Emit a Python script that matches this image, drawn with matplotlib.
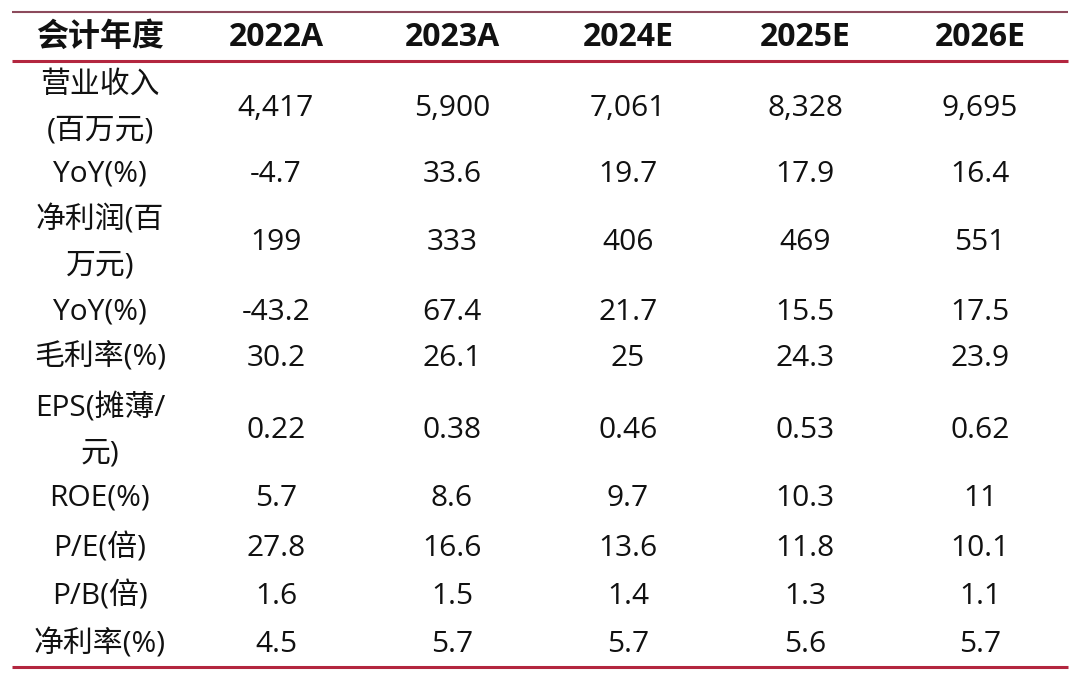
"""Financial forecast table rendered with matplotlib."""

import matplotlib.pyplot as plt

plt.rcParams["font.family"] = ["Open Sans", "Noto Sans CJK SC", "DejaVu Sans"]

HEADER = ["会计年度", "2022A", "2023A", "2024E", "2025E", "2026E"]
ROW_LABELS = [
    "营业收入\n(百万元)",
    "YoY(%)",
    "净利润(百\n万元)",
    "YoY(%)",
    "毛利率(%)",
    "EPS(摊薄/\n元)",
    "ROE(%)",
    "P/E(倍)",
    "P/B(倍)",
    "净利率(%)",
]
REVENUE = ["4,417", "5,900", "7,061", "8,328", "9,695"]
REVENUE_YOY = ["-4.7", "33.6", "19.7", "17.9", "16.4"]
NET_PROFIT = ["199", "333", "406", "469", "551"]
PROFIT_YOY = ["-43.2", "67.4", "21.7", "15.5", "17.5"]
GROSS_MARGIN = ["30.2", "26.1", "25", "24.3", "23.9"]
EPS = ["0.22", "0.38", "0.46", "0.53", "0.62"]
ROE = ["5.7", "8.6", "9.7", "10.3", "11"]
PE = ["27.8", "16.6", "13.6", "11.8", "10.1"]
PB = ["1.6", "1.5", "1.4", "1.3", "1.1"]
NET_MARGIN = ["4.5", "5.7", "5.7", "5.6", "5.7"]

ROWS = [REVENUE, REVENUE_YOY, NET_PROFIT, PROFIT_YOY, GROSS_MARGIN,
        EPS, ROE, PE, PB, NET_MARGIN]

# layout in pixel units
COL_X = [100, 276, 452, 628, 805, 980]
ROW_Y = [108, 174, 243, 312, 358, 431, 498, 548, 596, 644]
HEADER_Y = 37

fig = plt.figure(figsize=(10.8, 6.81), dpi=100)
ax = fig.add_axes([0, 0, 1, 1])
ax.set_xlim(0, 1080)
ax.set_ylim(681, 0)
ax.axis("off")

ax.plot([12, 1068], [12, 12], color="#8c4a5c", linewidth=1.5, solid_capstyle="butt")
ax.plot([12, 1068], [61, 61], color="#b3263f", linewidth=2.2, solid_capstyle="butt")
ax.plot([12, 1068], [667, 667], color="#b3263f", linewidth=2.2, solid_capstyle="butt")

for x, h in zip(COL_X, HEADER):
    ax.text(x, HEADER_Y, h, ha="center", va="center", fontsize=23,
            fontweight="bold", color="#111111")

for y, label, values in zip(ROW_Y, ROW_LABELS, ROWS):
    ax.text(COL_X[0], y, label, ha="center", va="center", fontsize=21.5,
            color="#111111", linespacing=1.75)
    for x, v in zip(COL_X[1:], values):
        ax.text(x, y, v, ha="center", va="center", fontsize=21.5, color="#111111")

fig.savefig("out.png", dpi=100)
